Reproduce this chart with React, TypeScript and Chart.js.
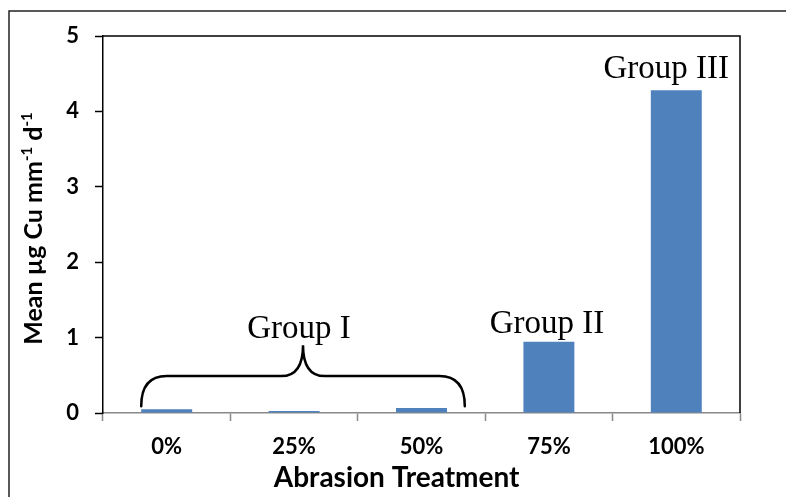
import { useEffect, useRef } from "react";
import { Chart, registerables } from "chart.js";

Chart.register(...registerables);

const categories = ["0%", "25%", "50%", "75%", "100%"];
const meanCu = [0.05, 0.027, 0.066, 0.946, 4.28];
const yMin = 0;
const yMax = 5;
const yStep = 1;
const groupNames = ["Group I", "Group II", "Group III"];
const xTitle = "Abrasion Treatment";
const yTitleMain = ["Mean µg Cu mm", " d"];
const yTitleSup = "-1";

const SANS = "Lato, 'Noto Sans', sans-serif";
const SERIF = "'Liberation Serif', 'DejaVu Serif', serif";

const decorPlugin = {
  id: "decor",
  beforeDraw(chart: any) {
    const { ctx, width, height } = chart;
    ctx.save();
    ctx.fillStyle = "#fff";
    ctx.fillRect(0, 0, width, height);
    ctx.strokeStyle = "#222";
    ctx.lineWidth = 1.5;
    ctx.beginPath();
    ctx.moveTo(9, height);
    ctx.lineTo(9, 11);
    ctx.lineTo(width, 11);
    ctx.stroke();
    ctx.restore();
  },
  afterDraw(chart: any) {
    const { ctx, chartArea: a } = chart;
    const x = chart.scales.x;
    const y = chart.scales.y;
    ctx.save();
    // plot area border (top and right)
    ctx.strokeStyle = "#000";
    ctx.lineWidth = 1.5;
    ctx.beginPath();
    ctx.moveTo(a.left, a.top);
    ctx.lineTo(a.right, a.top);
    ctx.lineTo(a.right, a.bottom);
    ctx.stroke();

    // y title with superscripts
    const fs = 25;
    const ss = 15;
    ctx.fillStyle = "#000";
    const mainFont = `bold ${fs}px ${SANS}`;
    const supFont = `bold ${ss}px ${SANS}`;
    ctx.font = mainFont;
    const w0 = ctx.measureText(yTitleMain[0]).width;
    const w2 = ctx.measureText(yTitleMain[1]).width;
    ctx.font = supFont;
    const w1 = ctx.measureText(yTitleSup).width;
    const total = w0 + w1 + w2 + w1;
    const cy = (a.top + a.bottom) / 2 + 4;
    ctx.translate(42, cy);
    ctx.rotate(-Math.PI / 2);
    ctx.textBaseline = "alphabetic";
    ctx.textAlign = "left";
    let cx = -total / 2;
    ctx.font = mainFont;
    ctx.fillText(yTitleMain[0], cx, 0);
    cx += w0;
    ctx.font = supFont;
    ctx.fillText(yTitleSup, cx, -10);
    cx += w1;
    ctx.font = mainFont;
    ctx.fillText(yTitleMain[1], cx, 0);
    cx += w2;
    ctx.font = supFont;
    ctx.fillText(yTitleSup, cx, -10);
    ctx.setTransform(1, 0, 0, 1, 0, 0);

    // x title
    ctx.font = `bold 28px ${SANS}`;
    ctx.textAlign = "center";
    ctx.textBaseline = "alphabetic";
    ctx.fillText(xTitle, a.left + 0.461 * (a.right - a.left), a.bottom + 74);

    // brace for Group I
    const catW = x.getPixelForValue(1) - x.getPixelForValue(0);
    const L = x.getPixelForValue(0) - 0.2 * catW;
    const R = x.getPixelForValue(2) + 0.34 * catW;
    const C = (L + R) / 2;
    const yEnd = y.getPixelForValue(0.09);
    const yMid = y.getPixelForValue(0.49);
    const yTip = y.getPixelForValue(0.9);
    const r1 = 0.2 * catW;
    const r2 = 0.17 * catW;
    ctx.strokeStyle = "#000";
    ctx.lineWidth = 2.5;
    ctx.lineCap = "round";
    ctx.beginPath();
    ctx.moveTo(L, yEnd);
    ctx.quadraticCurveTo(L, yMid, L + r1, yMid);
    ctx.lineTo(C - r2, yMid);
    ctx.quadraticCurveTo(C, yMid, C, yTip);
    ctx.quadraticCurveTo(C, yMid, C + r2, yMid);
    ctx.lineTo(R - r1, yMid);
    ctx.quadraticCurveTo(R, yMid, R, yEnd);
    ctx.stroke();

    // group labels
    ctx.font = `33px ${SERIF}`;
    ctx.fillStyle = "#000";
    ctx.textAlign = "center";
    ctx.textBaseline = "alphabetic";
    ctx.fillText(groupNames[0], C - 4, yTip - 7);
    ctx.fillText(groupNames[1], x.getPixelForValue(3) - 2, y.getPixelForValue(meanCu[3]) - 9);
    ctx.fillText(groupNames[2], x.getPixelForValue(4) - 10, y.getPixelForValue(meanCu[4]) - 12);
    ctx.restore();
  },
};

export default function App() {
  const ref = useRef<HTMLCanvasElement | null>(null);
  useEffect(() => {
    if (!ref.current) return;
    const chart = new Chart(ref.current, {
      type: "bar",
      data: {
        labels: categories,
        datasets: [
          {
            data: meanCu,
            backgroundColor: "#4F81BD",
            borderWidth: 0,
            barPercentage: 0.4,
            categoryPercentage: 1,
          },
        ],
      },
      options: {
        animation: false,
        responsive: false,
        devicePixelRatio: 1,
        layout: { padding: { top: 36, right: 46, left: 0, bottom: 0 } },
        plugins: { legend: { display: false }, tooltip: { enabled: false } },
        scales: {
          x: {
            offset: true,
            grid: {
              offset: true,
              drawOnChartArea: false,
              drawTicks: true,
              tickLength: 8,
              tickColor: "#888",
              tickWidth: 1.5,
            },
            border: { color: "#888", width: 1.5 },
            ticks: {
              color: "#000",
              font: { family: SANS, size: 22, weight: "bold" },
              padding: 13,
            },
            afterFit: (s: any) => {
              s.height = 84;
            },
          },
          y: {
            min: yMin,
            max: yMax,
            grid: {
              drawOnChartArea: false,
              drawTicks: true,
              tickLength: 8,
              tickColor: "#000",
              tickWidth: 1.5,
            },
            border: { color: "#000", width: 1.5 },
            ticks: {
              stepSize: yStep,
              color: "#000",
              font: { family: SANS, size: 22, weight: "bold" },
              padding: 16,
            },
            afterFit: (s: any) => {
              s.width = 103;
            },
          },
        },
      },
      plugins: [decorPlugin],
    });
    return () => chart.destroy();
  }, []);
  return (
    <div style={{ position: "fixed", left: 0, top: 0, width: 786, height: 497, background: "#fff" }}>
      <canvas ref={ref} width={786} height={497} />
    </div>
  );
}
